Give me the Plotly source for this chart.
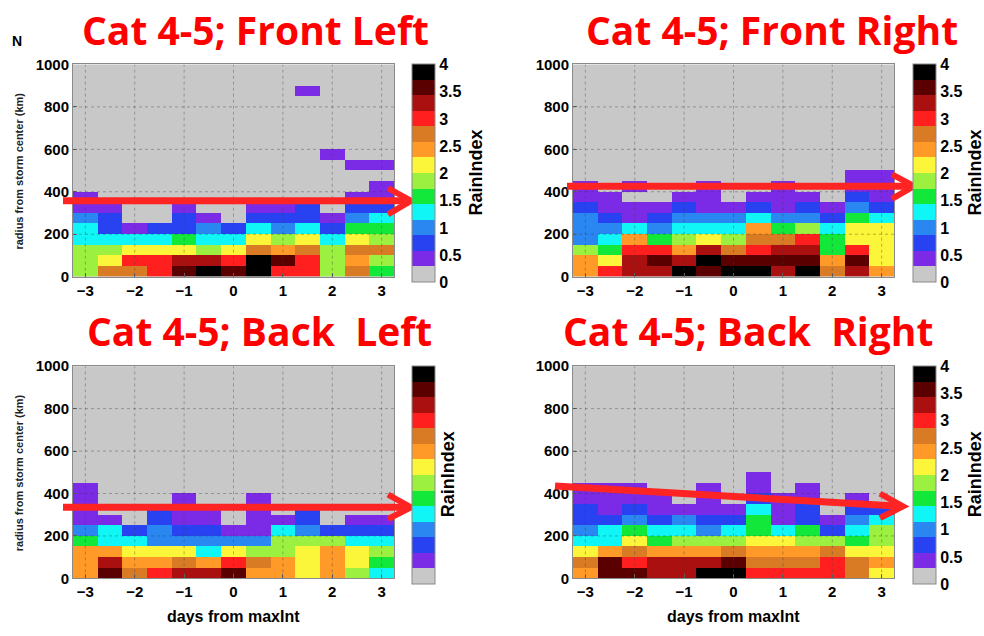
import plotly.graph_objects as go

# ---------------- data ----------------
days = [-3.0, -2.5, -2.0, -1.5, -1.0, -0.5, 0.0, 0.5, 1.0, 1.5, 2.0, 2.5, 3.0]
radius_km = [25 + 50 * i for i in range(20)]
x_ticks = [-3, -2, -1, 0, 1, 2, 3]
y_ticks = [0, 200, 400, 600, 800, 1000]
cbar_ticks = [0, 0.5, 1, 1.5, 2, 2.5, 3, 3.5, 4]

panel_titles = ["Cat 4-5; Front Left", "Cat 4-5; Front Right",
                "Cat 4-5; Back\u00a0 Left", "Cat 4-5; Back\u00a0 Right"]

# RainIndex rows, bottom (0-50 km) upward; columns follow `days`
front_left = [
    [1.9, 2.7, 2.7, 3.0, 3.6, 3.9, 3.6, 3.9, 3.0, 3.0, 1.9, 2.7, 1.6],
    [1.9, 2.1, 3.0, 3.0, 3.3, 3.3, 3.0, 3.9, 3.6, 3.0, 1.9, 2.4, 1.9],
    [1.9, 1.9, 2.1, 2.1, 2.1, 1.9, 2.1, 2.7, 2.4, 2.7, 1.9, 2.7, 2.7],
    [1.3, 1.3, 1.3, 1.3, 1.6, 1.3, 1.3, 2.1, 1.9, 2.1, 1.3, 2.1, 1.9],
    [1.3, 0.7, 0.4, 0.7, 0.7, 1.0, 0.7, 1.3, 1.0, 1.3, 0.7, 1.6, 1.6],
    [1.0, 0.7, 0.0, 0.0, 0.7, 0.4, 0.0, 0.7, 0.7, 0.7, 0.4, 1.0, 1.3],
    [0.4, 0.4, 0.0, 0.0, 0.4, 0.0, 0.0, 0.4, 0.4, 0.7, 0.0, 0.7, 0.7],
    [0.4, 0.0, 0.0, 0.0, 0.0, 0.0, 0.0, 0.0, 0.0, 0.0, 0.0, 0.4, 0.4],
    [0.0, 0.0, 0.0, 0.0, 0.0, 0.0, 0.0, 0.0, 0.0, 0.0, 0.0, 0.0, 0.4],
    [0.0, 0.0, 0.0, 0.0, 0.0, 0.0, 0.0, 0.0, 0.0, 0.0, 0.0, 0.0, 0.0],
    [0.0, 0.0, 0.0, 0.0, 0.0, 0.0, 0.0, 0.0, 0.0, 0.0, 0.0, 0.4, 0.4],
    [0.0, 0.0, 0.0, 0.0, 0.0, 0.0, 0.0, 0.0, 0.0, 0.0, 0.4, 0.0, 0.0],
    [0.0, 0.0, 0.0, 0.0, 0.0, 0.0, 0.0, 0.0, 0.0, 0.0, 0.0, 0.0, 0.0],
    [0.0, 0.0, 0.0, 0.0, 0.0, 0.0, 0.0, 0.0, 0.0, 0.0, 0.0, 0.0, 0.0],
    [0.0, 0.0, 0.0, 0.0, 0.0, 0.0, 0.0, 0.0, 0.0, 0.0, 0.0, 0.0, 0.0],
    [0.0, 0.0, 0.0, 0.0, 0.0, 0.0, 0.0, 0.0, 0.0, 0.0, 0.0, 0.0, 0.0],
    [0.0, 0.0, 0.0, 0.0, 0.0, 0.0, 0.0, 0.0, 0.0, 0.0, 0.0, 0.0, 0.0],
    [0.0, 0.0, 0.0, 0.0, 0.0, 0.0, 0.0, 0.0, 0.0, 0.4, 0.0, 0.0, 0.0],
]
front_right = [
    [2.4, 3.0, 3.3, 3.3, 3.9, 3.6, 3.9, 3.9, 3.3, 3.9, 2.7, 3.3, 2.4],
    [2.4, 2.1, 3.3, 3.6, 3.3, 3.9, 3.6, 3.6, 3.6, 3.6, 2.4, 3.6, 2.1],
    [1.9, 1.6, 3.0, 3.0, 2.4, 3.3, 2.7, 3.0, 3.3, 3.3, 1.6, 3.0, 2.1],
    [1.0, 1.3, 2.4, 1.6, 1.9, 2.1, 1.9, 2.7, 2.7, 3.0, 1.6, 2.1, 2.1],
    [1.0, 1.0, 1.3, 1.0, 1.3, 1.3, 1.3, 2.4, 1.6, 1.9, 1.3, 2.1, 2.1],
    [1.0, 0.7, 0.4, 0.7, 1.0, 1.0, 1.0, 1.3, 1.0, 1.0, 0.7, 1.6, 1.3],
    [0.7, 0.4, 0.4, 0.4, 0.7, 0.4, 0.4, 0.7, 0.4, 0.7, 0.4, 1.0, 0.7],
    [0.4, 0.4, 0.0, 0.0, 0.4, 0.4, 0.0, 0.4, 0.4, 0.4, 0.0, 0.7, 0.4],
    [0.4, 0.0, 0.4, 0.0, 0.0, 0.4, 0.0, 0.0, 0.4, 0.0, 0.0, 0.4, 0.4],
    [0.0, 0.0, 0.0, 0.0, 0.0, 0.0, 0.0, 0.0, 0.0, 0.0, 0.0, 0.4, 0.4],
]
back_left = [
    [2.4, 3.6, 2.7, 3.0, 3.3, 3.3, 3.6, 2.4, 2.4, 2.1, 2.4, 1.9, 1.3],
    [2.4, 3.3, 2.4, 2.4, 2.7, 2.4, 3.0, 2.7, 2.4, 2.1, 2.4, 2.1, 1.6],
    [2.4, 2.4, 2.1, 2.1, 2.1, 1.3, 2.1, 1.9, 1.9, 2.1, 2.4, 2.1, 1.9],
    [1.6, 1.3, 1.3, 1.0, 1.0, 1.0, 1.0, 1.0, 1.9, 1.9, 1.9, 1.3, 1.3],
    [1.0, 1.3, 0.7, 1.0, 0.7, 0.7, 0.4, 0.4, 1.3, 1.0, 0.7, 0.7, 0.7],
    [0.4, 0.4, 0.0, 0.7, 0.4, 0.4, 0.0, 0.4, 0.4, 0.7, 0.0, 0.4, 0.4],
    [0.4, 0.0, 0.0, 0.7, 0.4, 0.4, 0.0, 0.4, 0.0, 0.7, 0.0, 0.0, 0.0],
    [0.4, 0.0, 0.0, 0.0, 0.4, 0.0, 0.0, 0.4, 0.0, 0.0, 0.0, 0.0, 0.0],
    [0.4, 0.0, 0.0, 0.0, 0.0, 0.0, 0.0, 0.0, 0.0, 0.0, 0.0, 0.0, 0.0],
]
back_right = [
    [2.4, 3.6, 3.6, 3.3, 3.3, 3.9, 3.9, 3.0, 3.0, 3.0, 3.0, 2.7, 2.1],
    [2.7, 3.6, 3.0, 3.3, 3.3, 3.3, 3.6, 2.7, 2.7, 2.7, 3.0, 2.7, 2.4],
    [2.1, 2.4, 2.7, 2.4, 2.4, 2.4, 2.7, 2.4, 2.4, 2.4, 2.7, 2.1, 2.1],
    [1.3, 1.3, 2.1, 1.6, 1.9, 1.9, 1.9, 2.1, 2.1, 1.9, 1.9, 1.6, 1.9],
    [1.0, 1.3, 1.6, 1.3, 1.3, 1.0, 1.3, 1.6, 1.3, 1.6, 0.7, 1.3, 1.9],
    [0.7, 0.7, 1.0, 0.7, 1.0, 0.7, 0.7, 1.6, 0.4, 0.7, 0.4, 1.0, 1.3],
    [0.7, 0.4, 0.7, 0.4, 0.4, 0.4, 0.4, 1.3, 0.4, 0.7, 0.0, 0.7, 0.7],
    [0.4, 0.4, 0.4, 0.4, 0.0, 0.4, 0.0, 0.7, 0.4, 0.4, 0.0, 0.4, 0.0],
    [0.4, 0.4, 0.4, 0.0, 0.0, 0.4, 0.0, 0.4, 0.0, 0.4, 0.0, 0.0, 0.0],
    [0.0, 0.0, 0.0, 0.0, 0.0, 0.0, 0.0, 0.4, 0.0, 0.0, 0.0, 0.0, 0.0],
]

# 14-step colormap (0..4)
level_colors = ["#c8c8c8", "#7b2be6", "#2842f2", "#2a86f0", "#10f6f6", "#12e83a",
                "#9cf040", "#fbf63a", "#ff9a28", "#d97a25", "#ff1f1f", "#aa1010",
                "#5a0000", "#000000"]

# ---------------- helpers ----------------
W, H = 984, 636
BG = "#c8c8c8"
AXFONT = "Liberation Sans"


def fx(p):
    return p / W


def fy(p):
    return 1 - p / H


n = len(level_colors)
colorscale = []
for i, c in enumerate(level_colors):
    colorscale.append([i / n, c])
    colorscale.append([(i + 1) / n, c])


def pad(rows):
    out = [list(r) for r in rows]
    while len(out) < len(radius_km):
        out.append([None] * len(days))
    return out


panels = [
    dict(data=front_left, box=(73, 394, 57, 275), cb=412, ticks=True, rix=476, ylab=True, xlab=False,
         title_xy=(255, 21)),
    dict(data=front_right, box=(573, 894, 57, 275), cb=913, ticks=True, rix=975, ylab=False, xlab=False,
         title_xy=(772, 21)),
    dict(data=back_left, box=(73, 394, 367, 585), cb=412, ticks=False, rix=448, ylab=True, xlab=True,
         title_xy=(259, 330)),
    dict(data=back_right, box=(573, 894, 367, 585), cb=913, ticks=True, rix=975, ylab=False, xlab=True,
         title_xy=(748, 330)),
]

fig = go.Figure()
layout = dict(width=W, height=H, autosize=False, margin=dict(l=0, r=0, t=0, b=0),
              paper_bgcolor="white", plot_bgcolor=BG, showlegend=False)
annotations = []
shapes = []
GRID = dict(color="rgba(60,60,60,0.38)", width=1, dash="dot")

for k, p in enumerate(panels):
    sfx = "" if k == 0 else str(k + 1)
    x0, x1, y0, y1 = p["box"]
    fig.add_trace(go.Heatmap(
        x=days, y=radius_km, z=pad(p["data"]), zmin=0, zmax=4,
        colorscale=colorscale, xaxis="x" + sfx, yaxis="y" + sfx,
        hoverongaps=False,
        colorbar=dict(
            x=fx(p["cb"]), xanchor="left", xpad=0, y=fy(y0), yanchor="top", ypad=0,
            len=y1 - y0, lenmode="pixels", thickness=23, thicknessmode="pixels",
            outlinecolor="#8a8a8a", outlinewidth=1, ticks="",
            tickvals=cbar_ticks, ticktext=[f"{v:g}" for v in cbar_ticks],
            showticklabels=p["ticks"],
            tickfont=dict(family=AXFONT, size=16, color="black", weight="bold"),
        ),
    ))
    axcommon = dict(showline=True, mirror=True, linecolor="#8a8a8a", linewidth=1,
                    ticks="inside", ticklen=4, tickcolor="#666", showgrid=False, zeroline=False,
                    tickfont=dict(family=AXFONT, size=15, color="black", weight="bold"))
    layout["xaxis" + sfx] = dict(axcommon, domain=[fx(x0), fx(x1)], range=[-3.25, 3.25],
                                 tickvals=x_ticks, anchor="y" + sfx)
    layout["yaxis" + sfx] = dict(axcommon, domain=[fy(y1), fy(y0)], range=[0, 1000],
                                 tickvals=y_ticks, anchor="x" + sfx)
    # dotted grid on top of the cells
    for t in x_ticks:
        shapes.append(dict(type="line", xref="x" + sfx, yref="y" + sfx, x0=t, x1=t, y0=0, y1=1000,
                           layer="above", line=GRID))
    for t in y_ticks[1:-1]:
        shapes.append(dict(type="line", xref="x" + sfx, yref="y" + sfx, x0=-3.25, x1=3.25, y0=t, y1=t,
                           layer="above", line=GRID))
    # title
    tx, ty = p["title_xy"]
    annotations.append(dict(text=panel_titles[k], x=fx(tx), y=fy(ty), xref="paper", yref="paper",
                            xanchor="center", yanchor="middle", showarrow=False,
                            font=dict(family="Open Sans", size=39, color="#ff0000", weight="bold")))
    annotations.append(dict(text="RainIndex", x=fx(p["rix"]), y=fy((y0 + y1) / 2 + 2), xref="paper",
                            yref="paper", textangle=-90, xanchor="center", yanchor="middle",
                            showarrow=False,
                            font=dict(family=AXFONT, size=18, color="black", weight="bold")))
    if p["ylab"]:
        annotations.append(dict(text="radius from storm center (km)", x=fx(19), y=fy((y0 + y1) / 2 + 1),
                                xref="paper", yref="paper", textangle=-90, xanchor="center",
                                yanchor="middle", showarrow=False,
                                font=dict(family=AXFONT, size=11, color="#222", weight="bold")))
    if p["xlab"]:
        annotations.append(dict(text="days from maxInt", x=fx((x0 + x1) / 2), y=fy(624),
                                xref="paper", yref="paper", xanchor="center", yanchor="middle",
                                showarrow=False,
                                font=dict(family=AXFONT, size=16, color="black", weight="bold")))

annotations.append(dict(text="N", x=fx(17), y=fy(33), xref="paper", yref="paper",
                        xanchor="center", yanchor="middle", showarrow=False,
                        font=dict(family=AXFONT, size=14, color="black", weight="bold")))

# red arrows (start, tip, upper-arm end, lower-arm end) in pixels
arrows = [
    ((63, 197), (411, 197), (388, 184), (388, 211)),
    ((567, 182), (914, 182), (892, 170), (892, 195)),
    ((63, 512), (411, 512), (388, 499), (388, 524)),
    ((555, 490), (903, 511), (880, 498), (880, 523)),
]
RED = "#ff2424"
for (s, t, a1, a2) in arrows:
    shapes.append(dict(type="line", xref="paper", yref="paper", x0=fx(s[0]), y0=fy(s[1]),
                       x1=fx(t[0] - 3), y1=fy(t[1]), layer="above", line=dict(color=RED, width=7)))
    path = (f"M {fx(a1[0])} {fy(a1[1])} L {fx(t[0])} {fy(t[1])} L {fx(a2[0])} {fy(a2[1])}")
    shapes.append(dict(type="path", xref="paper", yref="paper", path=path, layer="above",
                       line=dict(color=RED, width=6)))

layout["annotations"] = annotations
layout["shapes"] = shapes
fig.update_layout(**layout)
fig.write_html("out.html")
